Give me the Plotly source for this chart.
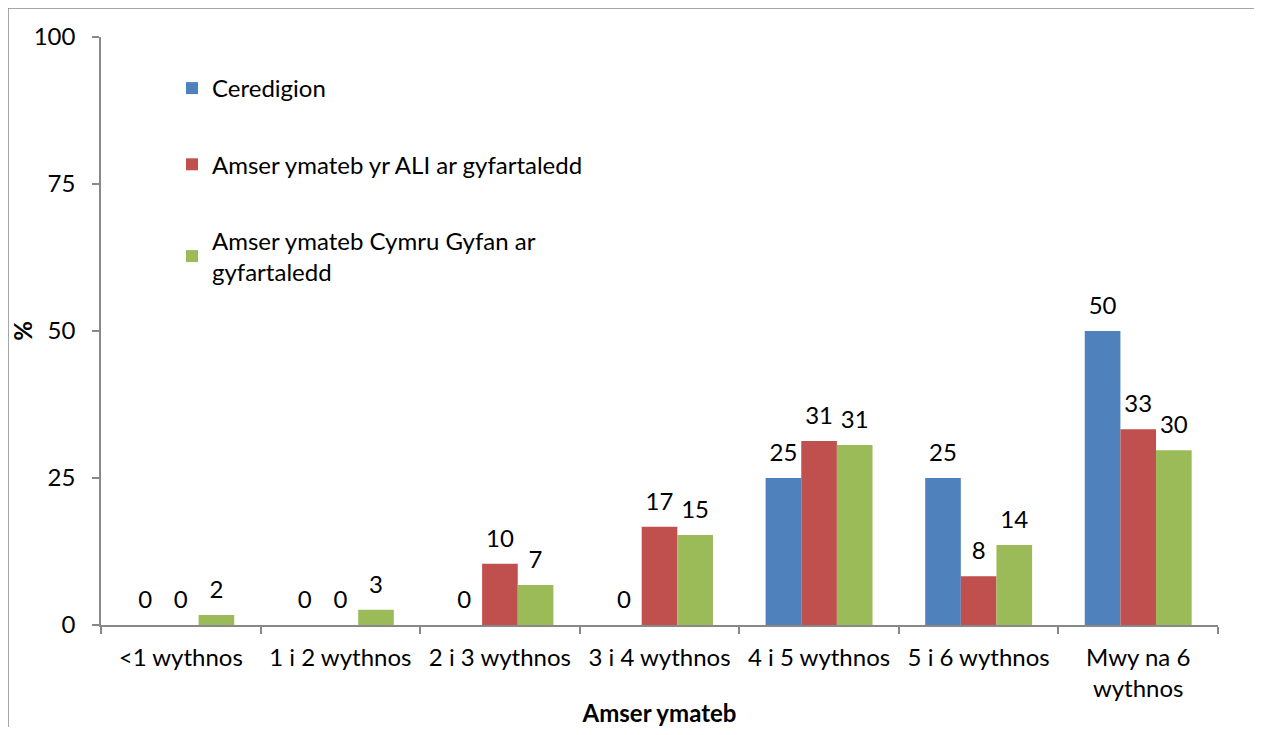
import plotly.graph_objects as go

# categories on the x axis
categories = ["<1 wythnos", "1 i 2 wythnos", "2 i 3 wythnos", "3 i 4 wythnos",
              "4 i 5 wythnos", "5 i 6 wythnos", "Mwy na 6<br>wythnos"]

# series values (%)
ceredigion = [0, 0, 0, 0, 25, 25, 50]
ali_avg = [0, 0, 10.4, 16.7, 31.3, 8.3, 33.3]
wales_avg = [1.7, 2.6, 6.8, 15.3, 30.6, 13.6, 29.7]

series_names = ["Ceredigion",
                "Amser ymateb yr ALI ar gyfartaledd",
                "Amser ymateb Cymru Gyfan ar<br>gyfartaledd"]
colors = ["#4F81BD", "#C0504D", "#9BBB59"]

y_ticks = [0, 25, 50, 75, 100]

FONT = "Lato, Open Sans, sans-serif"
FS = 24

fig = go.Figure()
all_series = [ceredigion, ali_avg, wales_avg]
for i, (name, vals) in enumerate(zip(series_names, all_series)):
    fig.add_trace(go.Bar(
        x=categories,
        y=vals,
        name=name,
        legendgroup="g%d" % i,
        offsetgroup=str(i),
        marker=dict(color=colors[i], line=dict(width=0)),
    ))

# value labels, lifted a bit above the bars with an invisible marker
for i, vals in enumerate(all_series):
    fig.add_trace(go.Scatter(
        x=categories,
        y=vals,
        mode="markers+text",
        offsetgroup=str(i),
        marker=dict(size=16, opacity=0),
        texttemplate="%{y:.0f}",
        textposition="top center",
        textfont=dict(size=FS, color="black", family=FONT),
        showlegend=False,
        hoverinfo="skip",
        cliponaxis=False,
    ))

# page body has an 8px margin, so work in page pixels minus 8
OFF = 8
W, H = 1262 - 2 * OFF, 735 - 2 * OFF
L = 101 - OFF
T = 37 - OFF
R = W - (1218 - OFF)
B = H - (625 - OFF)
pw, ph = W - L - R, H - T - B

bx0, bx1 = (8 - 101) / pw, (1260 - 101) / pw
by0, by1 = (625 - 780) / ph, (625 - 8) / ph

fig.update_layout(
    width=W, height=H,
    margin=dict(l=L, r=R, t=T, b=B, autoexpand=False),
    plot_bgcolor="white",
    paper_bgcolor="white",
    barmode="group",
    scattermode="group",
    bargap=0.33,
    bargroupgap=0,
    scattergap=0.33,
    font=dict(family=FONT, size=FS, color="black"),
    legend=dict(
        x=(172 - 101) / pw, y=(625 - 66) / ph,
        xanchor="left", yanchor="top",
        traceorder="grouped",
        tracegroupgap=42,
        font=dict(size=FS, family=FONT),
        bgcolor="rgba(0,0,0,0)",
        itemwidth=30,
    ),
    xaxis=dict(
        showline=True, linecolor="#888888", linewidth=1.5,
        ticks="outside", ticklen=7, tickcolor="#888888", tickwidth=1.5,
        tickson="boundaries",
        ticklabelstandoff=10,
        showgrid=False,
        tickfont=dict(size=FS),
        title=dict(text="<b>Amser ymateb</b>", font=dict(size=FS), standoff=10),
    ),
    yaxis=dict(
        range=[0, 100],
        tickvals=y_ticks,
        showline=True, linecolor="#888888", linewidth=1.5,
        ticks="outside", ticklen=7, tickcolor="#888888", tickwidth=1.5,
        ticklabelstandoff=12,
        showgrid=False, zeroline=False,
        tickfont=dict(size=FS),
        title=dict(text="<b>%</b>", font=dict(size=FS), standoff=0),
    ),
    shapes=[dict(
        type="path", xref="paper", yref="paper",
        path="M %f %f L %f %f L %f %f L %f %f" % (bx0, by0, bx0, by1, bx1, by1, bx1, by0),
        line=dict(color="#888888", width=1.5),
        layer="below",
    )],
)

fig.write_html("out.html")
